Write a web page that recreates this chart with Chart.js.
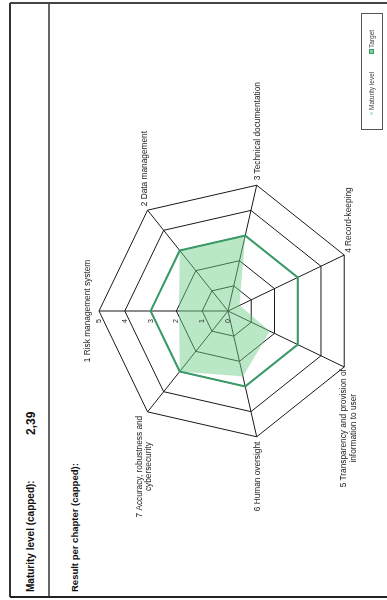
<!DOCTYPE html>
<html>
<head>
<meta charset="utf-8">
<script src="https://cdn.jsdelivr.net/npm/chart.js@4.4.0/dist/chart.umd.min.js"></script>
<style>
  html, body { margin: 0; padding: 0; background: #fff; }
  body { width: 387px; height: 600px; overflow: hidden; position: relative; }
  /* the report sheet is laid out landscape, then turned a quarter to the left */
  #page {
    position: absolute; left: 0; top: 0; width: 600px; height: 387px;
    transform-origin: 0 0; transform: translate(0, 600px) rotate(-90deg);
    font-family: "Liberation Sans", Arial, sans-serif; color: #111;
  }
  .rule { position: absolute; }
  .txt { position: absolute; white-space: nowrap; font-weight: bold; }
  #chartBox { position: absolute; left: 0; top: 50px; width: 600px; height: 337px; }
  #legend {
    position: absolute; left: 470px; top: 361px; width: 117px; height: 22px;
    box-sizing: border-box; border: 1px solid #555;
  }
  .key { position: absolute; }
  .keyText { position: absolute; font-size: 6.5px; line-height: 8px; color: #444; white-space: nowrap; }
</style>
</head>
<body>
<div id="page">
  <div class="rule" style="left:3px; top:9px; width:594px; height:2px; background:#333;"></div>
  <div class="rule" style="left:3px; top:48px; width:594px; height:2px; background:#666;"></div>
  <div class="rule" style="left:2px; top:10px; width:2px; height:377px; background:#222;"></div>
  <div class="rule" style="left:596px; top:10px; width:2px; height:377px; background:#444;"></div>

  <div class="txt" style="left:8px; top:25px; font-size:10px; line-height:12px;">Maturity level (capped):</div>
  <div class="txt" style="left:165px; top:24px; font-size:12px; line-height:14px;">2,39</div>
  <div class="txt" style="left:8px; top:69px; font-size:9.5px; line-height:12px;">Result per chapter (capped):</div>

  <div id="chartBox"><canvas id="radarChart" width="600" height="337"></canvas></div>

  <div id="legend">
    <span class="key" style="left:14px; top:8px; width:3px; height:3px; background:#c4ecce;"></span>
    <span class="keyText" style="left:19px; top:6px;">Maturity level</span>
    <span class="key" style="left:75px; top:7px; width:3px; height:3px; background:#7fcf9a; border:1px solid #3a9a68;"></span>
    <span class="keyText" style="left:81px; top:6px;">Target</span>
  </div>
</div>

<script>
// chapters of the assessment, one spoke each
const chapters = [
  '1 Risk management system',
  '2 Data management',
  '3 Technical documentation',
  '4 Record-keeping',
  ['5 Transparency and provision of', 'information to user'],
  '6 Human oversight',
  ['7 Accuracy, robustness and', 'cybersecurity']
];
const maturityLevel = [1.9, 3, 3, 0.5, 1.8, 2.6, 3];
const target = [3, 3, 3, 3, 3, 3, 3];
const levelTicks = [0, 1, 2, 3, 4, 5];

const labelFont = '8.3px "Liberation Sans", Arial, sans-serif';
const lineH = 9.5;

// spoke labels are drawn by hand so two-line labels stay centred like the report
const chapterLabels = {
  id: 'chapterLabels',
  afterDraw(chart) {
    const r = chart.scales.r;
    const ctx = chart.ctx;
    ctx.save();
    ctx.fillStyle = '#1a1a1a';
    ctx.font = labelFont;
    ctx.textAlign = 'center';
    ctx.textBaseline = 'middle';
    chart.data.labels.forEach((label, i) => {
      const lines = Array.isArray(label) ? label : [label];
      const pos = r.getPointPosition(i, r.drawingArea + 5);
      const deg = ((pos.angle + Math.PI / 2) * 180 / Math.PI + 360) % 360;
      const w = Math.max(...lines.map(l => ctx.measureText(l).width));
      const h = lines.length * lineH;
      let left, top;
      if (deg < 1 || deg > 359) {
        left = pos.x - w / 2;
        top = pos.y - 2 - h;
      } else if (deg < 180) {
        left = pos.x;
        top = pos.y - h / 2;
      } else {
        left = pos.x - w;
        top = pos.y - h / 2;
      }
      lines.forEach((l, k) => ctx.fillText(l, left + w / 2, top + lineH * (k + 0.5)));
    });

    // level numbers sit just beside the first spoke
    ctx.font = '7px "Liberation Sans", Arial, sans-serif';
    ctx.textAlign = 'right';
    ctx.fillStyle = '#222';
    levelTicks.forEach(v => {
      const d = r.getDistanceFromCenterForValue(v);
      ctx.fillText(String(v), r.xCenter - 8, r.yCenter - d);
    });
    ctx.restore();
  }
};

const ctx = document.getElementById('radarChart').getContext('2d');
new Chart(ctx, {
  type: 'radar',
  data: {
    labels: chapters,
    datasets: [
      {
        label: 'Maturity level',
        data: maturityLevel,
        backgroundColor: 'rgba(110, 205, 135, 0.48)',
        borderWidth: 0,
        pointRadius: 0,
        fill: true,
        order: 2
      },
      {
        label: 'Target',
        data: target,
        borderColor: '#3a9a68',
        borderWidth: 2,
        backgroundColor: 'rgba(0,0,0,0)',
        pointRadius: 0,
        fill: false,
        order: 1
      }
    ]
  },
  options: {
    responsive: false,
    animation: false,
    layout: { padding: { left: 160, right: 182, top: 49, bottom: 30 } },
    plugins: {
      legend: { display: false },
      tooltip: { enabled: false }
    },
    scales: {
      r: {
        min: 0,
        max: 5,
        ticks: { stepSize: 1, display: false },
        grid: { color: '#1a1a1a', lineWidth: 1 },
        angleLines: { color: '#1a1a1a', lineWidth: 1 },
        pointLabels: { display: false }
      }
    }
  },
  plugins: [chapterLabels]
});
</script>
</body>
</html>
